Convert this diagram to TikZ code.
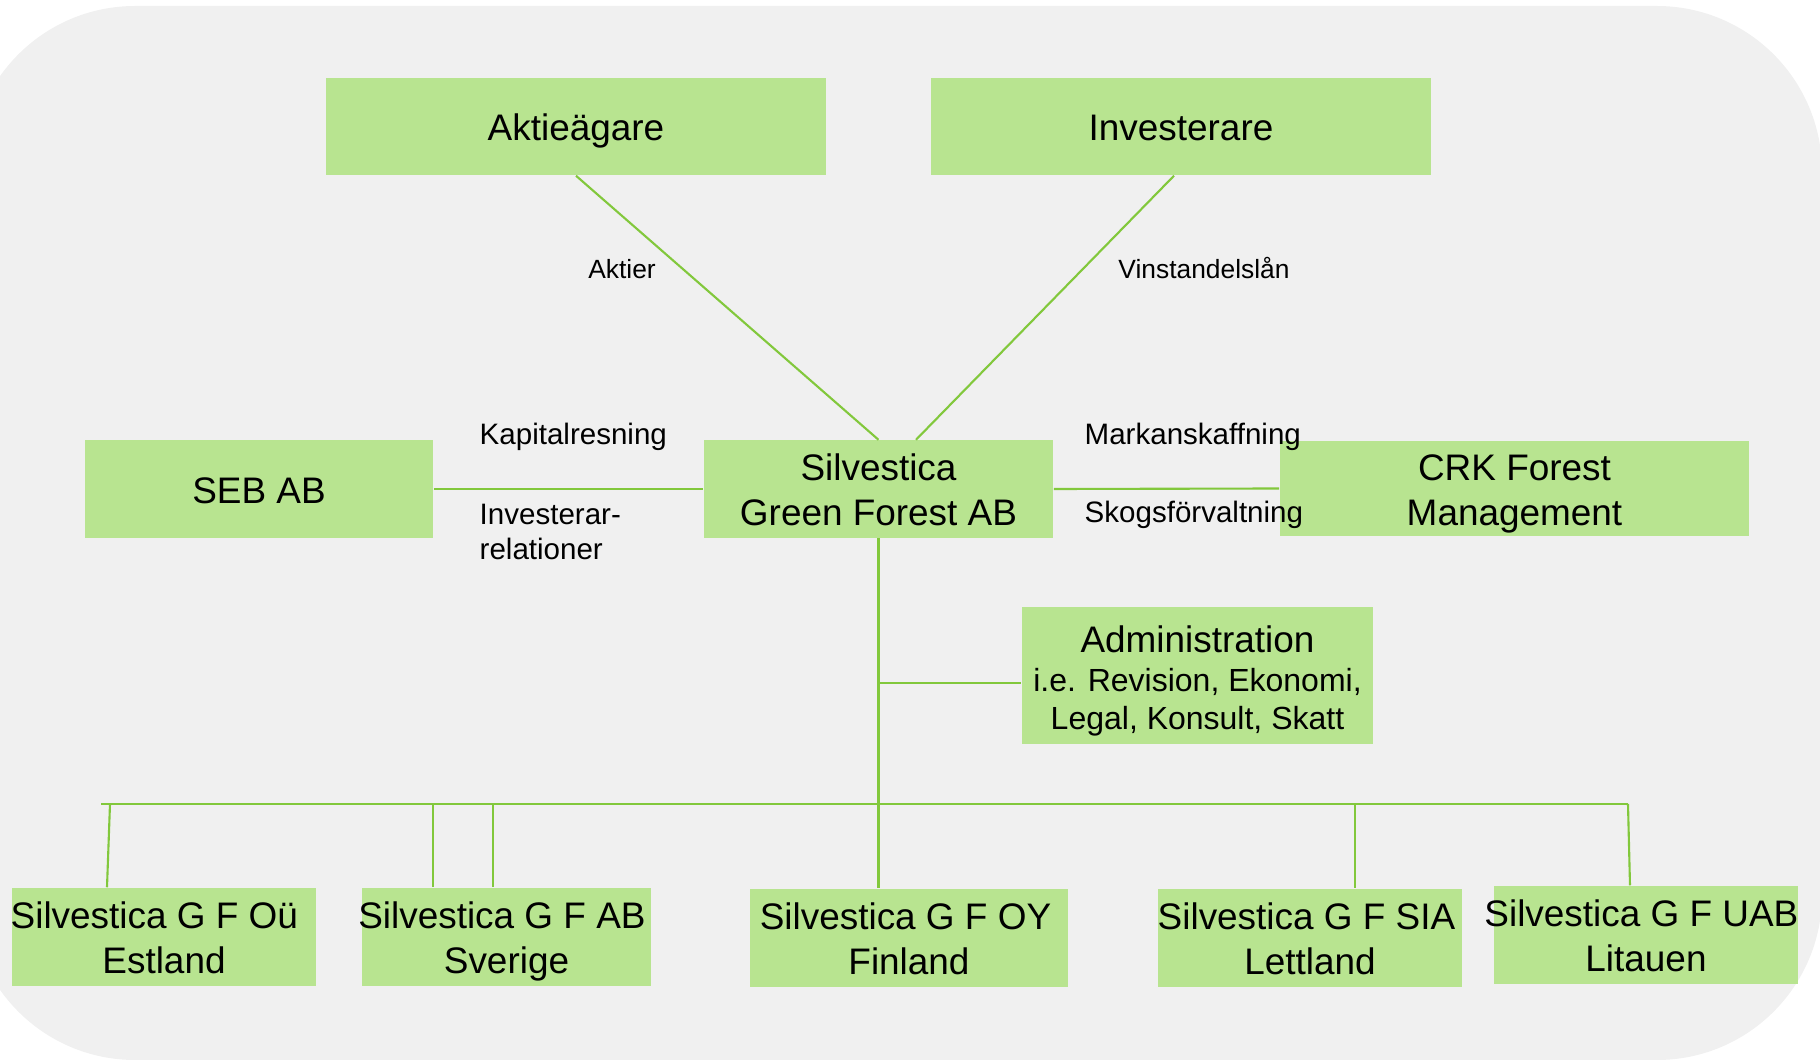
\documentclass[tikz,border=0pt]{standalone}
\usepackage{fontspec}
\setmainfont{Liberation Sans}
\usepackage{tikz}
\usepackage{xcolor}
\definecolor{boxgreen}{RGB}{184,228,144}
\definecolor{linegreen}{RGB}{130,200,60}
\definecolor{bggray}{RGB}{240,240,240}
\tikzset{
	unit/.style={fill=boxgreen,inner sep=0pt,align=center,minimum height=0.97cm,
		font=\fontsize{10.5}{12.8}\selectfont,
		execute at begin node={\rule{0pt}{10.6pt}},
		execute at end node={\rule[-2.6pt]{0pt}{2.6pt}}},
	multi/.style={execute at begin node={\rule{0pt}{#1}}},
	multi/.default=23.4pt,
	link/.style={draw=linegreen,line width=0.6pt},
	flow/.style={inner sep=0pt,align=left,font=\fontsize{8.4}{9.7}\selectfont},
	smallflow/.style={flow,font=\fontsize{7.5}{9.1}\selectfont}
}

\begin{document}
\begin{tikzpicture}[x=0.01cm,y=-0.01cm]
			\useasboundingbox (0,0) rectangle (1820,1061);
			\clip (0,0) rectangle (1820,1061);
			\fill[bggray,rounded corners=1.65cm] (-30,6) rectangle (1822,1060);
			\begin{scope}
				\node[unit,minimum width=5cm] (aktie) at (576,126.5) {Aktieägare};
				\node[unit,minimum width=5cm] (invest) at (1181,126.5) {Investerare};
				\node[unit,minimum width=3.48cm] (seb) at (259,489) {SEB AB};
				\node[unit,multi,minimum width=3.49cm] (sgf) at (878.5,489) {Silvestica\\Green Forest AB};
				\node[unit,multi,minimum width=4.69cm,minimum height=0.95cm] (crk) at (1514.5,488.5) {CRK Forest\\Management};
				\node[unit,multi=33.4pt,minimum width=3.51cm,minimum height=1.37cm] (admin) at (1197.5,675.5)
				{Administration\\[-1.7pt]{\fontsize{9.1}{11.2}\selectfont i.e. Revision, Ekonomi,}\\[-1.85pt]{\fontsize{9.1}{11.2}\selectfont Legal, Konsult, Skatt}};
			\end{scope}
			\begin{scope}[every node/.style={unit,multi,minimum width=3.04cm,minimum height=0.98cm}]
				\node (est) at (164,937) {\makebox[2.9cm]{Silvestica G F Oü\hspace*{5.5pt}}\\Estland};
				\node[minimum width=2.89cm] (sve) at (506.5,937) {\makebox[2.8cm]{Silvestica G F AB\hspace*{2.6pt}}\\Sverige};
				\node[minimum width=3.18cm] (fin) at (909,938) {Silvestica G F OY\hspace*{2pt}\\Finland};
				\node (let) at (1310,938) {Silvestica G F SIA\hspace*{2pt}\\Lettland};
				\node (lit) at (1646,935) {\makebox[2.9cm]{Silvestica G F UAB\hspace*{2.6pt}}\\Litauen};
			\end{scope}
			\coordinate (busw) at (101,804);
			\coordinate (buse) at (1628,804);
			\coordinate (trunk) at (sgf.south |- fin.north);
			\coordinate (adminjoin) at (sgf.south |- 0,683);
			\draw[link] (aktie.south) -- (sgf.north);
			\draw[link] (1174,0 |- invest.south) -- (916,0 |- sgf.north);
			\draw[link] (seb.east) -- (sgf.west);
			\draw[link] (sgf.east) -- (crk.west);
			\draw[link] (sgf.south) -- (trunk);
			\draw[link] (adminjoin) -- (adminjoin -| admin.west);
			\draw[link] (busw) -- (buse);
			\foreach \Top/\Bot/\Unit in {110/107/est,433/433/sve,493/493/sve,1355/1355/let,1628/1630/lit}
			\draw[link] (\Top,804) -- (\Bot,0 |- \Unit.north);
			\node[smallflow] (aktier) at (622,269) {Aktier};
			\node[smallflow] (vinst) at (1204,268) {Vinstandelslån};
			\node[flow,anchor=west] (kapital) at (479,437) {Kapitalresning};
			\node[flow,anchor=west] (relation) at (479,532) {Investerar-\\relationer};
			\node[flow,anchor=west] (mark) at (1084,437) {Markanskaffning};
			\node[flow,anchor=west] (skog) at (1084,515) {Skogsförvaltning};
		\end{tikzpicture}
\end{document}
